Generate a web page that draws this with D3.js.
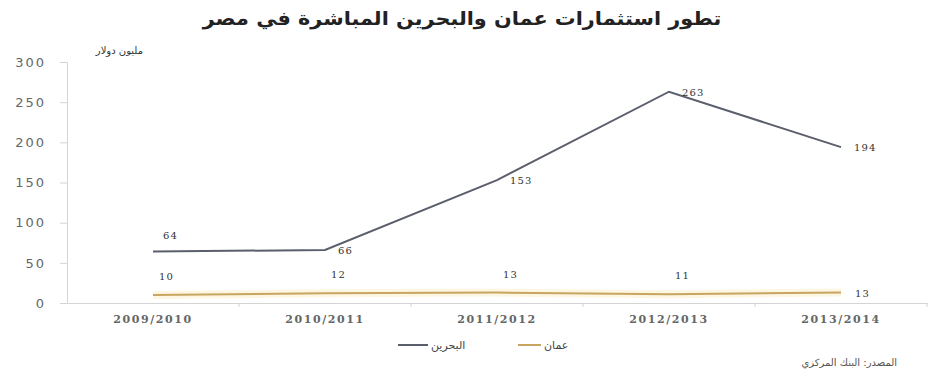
<!DOCTYPE html>
<html>
<head>
<meta charset="utf-8">
<script src="https://cdn.jsdelivr.net/npm/d3@7"></script>
<style>
  body { margin: 0; background: #fff; }
  svg { display: block; }
</style>
</head>
<body>
<svg id="chart" width="930" height="387"></svg>
<script>
// data
let categories = ["2009/2010", "2010/2011", "2011/2012", "2012/2013", "2013/2014"]
let bahrain = [64, 66, 153, 263, 194]
let oman = [10, 12, 13, 11, 13]
let yTicks = [0, 50, 100, 150, 200, 250, 300]

let width = 930
let height = 387
let margin = { top: 62, right: 3, bottom: 84, left: 67 }

let svg = d3.select("#chart")

let xScale = d3.scaleBand()
    .domain(categories)
    .range([margin.left, width - margin.right])

let yScale = d3.scaleLinear()
    .domain([0, 300])
    .range([height - margin.bottom, margin.top])

// 标题
let title = svg.append("text")
    .attr("x", 462)
    .attr("y", 25)
    .attr("text-anchor", "middle")
    .attr("font-family", "DejaVu Sans")
    .attr("font-weight", "bold")
    .attr("font-size", 19)
    .attr("fill", "#222")
    .text("تطور استثمارات عمان والبحرين المباشرة في مصر")
let tb = title.node().getBBox()
let sx = 520 / tb.width
title.attr("transform", "translate(" + 462 * (1 - sx) + ",0) scale(" + sx + ",1)")

// unit label
svg.append("text")
    .attr("x", 143)
    .attr("y", 54)
    .attr("text-anchor", "end")
    .attr("font-family", "DejaVu Sans")
    .attr("font-size", 10)
    .attr("fill", "#333")
    .text("مليون دولار")

// y axis
let yAxis = svg.append("g")
    .attr("transform", "translate(" + margin.left + ",0)")
    .call(d3.axisLeft(yScale).tickValues(yTicks).tickSize(7).tickPadding(14))
yAxis.select(".domain").attr("stroke", "#d4d4d4")
yAxis.selectAll(".tick line").attr("stroke", "#d4d4d4")
yAxis.selectAll("text")
    .attr("font-family", "DejaVu Sans")
    .attr("font-size", 13)
    .attr("letter-spacing", 2)
    .attr("fill", "#666")

// x axis
let xAxis = svg.append("g")
    .attr("transform", "translate(0," + (height - margin.bottom) + ")")
    .call(d3.axisBottom(xScale).tickSize(0).tickPadding(12))
xAxis.select(".domain").attr("stroke", "#d4d4d4")
xAxis.selectAll("text")
    .attr("font-family", "DejaVu Serif")
    .attr("font-weight", "bold")
    .attr("font-size", 11)
    .attr("letter-spacing", 1.6)
    .attr("fill", "#666")
// boundary ticks between categories
svg.append("g").selectAll("line")
    .data(categories)
    .enter().append("line")
    .attr("x1", function (d) { return xScale(d) + xScale.step() })
    .attr("x2", function (d) { return xScale(d) + xScale.step() })
    .attr("y1", height - margin.bottom)
    .attr("y2", height - margin.bottom + 4)
    .attr("stroke", "#d4d4d4")

let cx = function (i) { return xScale(categories[i]) + xScale.bandwidth() / 2 }

let line = d3.line()
    .x(function (d, i) { return cx(i) })
    .y(function (d) { return yScale(d) })

// oman glow + line
svg.append("path")
    .datum(oman)
    .attr("d", line)
    .attr("fill", "none")
    .attr("stroke", "#fdf6e2")
    .attr("stroke-width", 8)
svg.append("path")
    .datum(oman)
    .attr("d", line)
    .attr("fill", "none")
    .attr("stroke", "#c8a560")
    .attr("stroke-width", 2)

svg.append("path")
    .datum(bahrain)
    .attr("d", line)
    .attr("fill", "none")
    .attr("stroke", "#5b5f6c")
    .attr("stroke-width", 2)

function labelFont(sel) {
    sel.attr("font-family", "DejaVu Serif")
        .attr("font-size", 10)
        .attr("letter-spacing", 1.2)
        .attr("fill", "#333")
}

// data labels
svg.append("g").selectAll("text")
    .data(bahrain)
    .enter().append("text")
    .attr("x", function (d, i) { return cx(i) + (i === 0 ? 10 : 13) })
    .attr("y", function (d, i) { return yScale(d) + (i === 0 ? -13 : 4) })
    .call(labelFont)
    .text(function (d) { return d })

svg.append("g").selectAll("text")
    .data(oman)
    .enter().append("text")
    .attr("x", function (d, i) { return cx(i) + (i === 4 ? 14 : 6) })
    .attr("y", function (d, i) { return yScale(d) + (i === 4 ? 4 : -15) })
    .call(labelFont)
    .text(function (d) { return d })

// legend
let legend = svg.append("g").attr("font-family", "DejaVu Sans").attr("font-size", 11).attr("fill", "#444")
legend.append("line").attr("x1", 398).attr("x2", 428).attr("y1", 345).attr("y2", 345)
    .attr("stroke", "#5b5f6c").attr("stroke-width", 2)
legend.append("text").attr("x", 431).attr("y", 349).attr("text-anchor", "start").text("البحرين")
legend.append("line").attr("x1", 518).attr("x2", 541).attr("y1", 345).attr("y2", 345)
    .attr("stroke", "#c8a560").attr("stroke-width", 2)
legend.append("text").attr("x", 544).attr("y", 349).attr("text-anchor", "start").text("عمان")

// source
svg.append("text")
    .attr("x", 897)
    .attr("y", 366)
    .attr("text-anchor", "end")
    .attr("font-family", "DejaVu Sans")
    .attr("font-size", 10)
    .attr("fill", "#555")
    .text("المصدر: البنك المركزي")
</script>
</body>
</html>
